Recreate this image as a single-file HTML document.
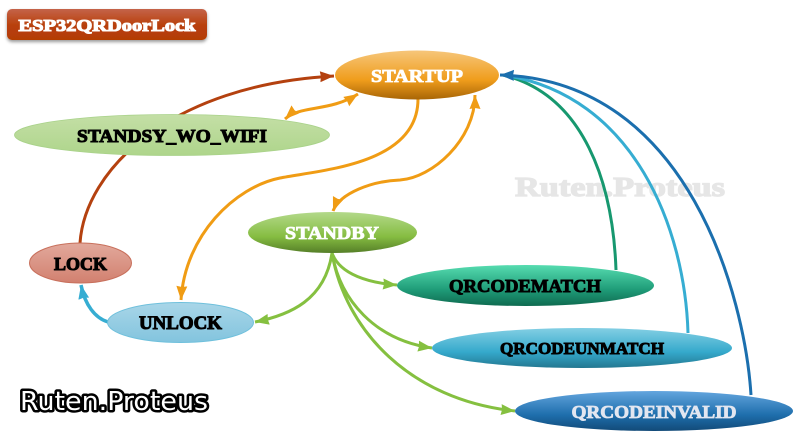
<!DOCTYPE html>
<html><head><meta charset="utf-8">
<style>
html,body{margin:0;padding:0;background:#fff}
svg{display:block}
text{font-family:"Liberation Serif",serif;font-weight:bold;text-anchor:middle;dominant-baseline:auto}
</style></head><body>
<svg width="800" height="437" viewBox="0 0 800 437" xmlns="http://www.w3.org/2000/svg">
<defs>
<linearGradient id="gT" x1="0" y1="0" x2="0" y2="1"><stop offset="0" stop-color="#c4634a"/><stop offset=".55" stop-color="#b83f08"/><stop offset="1" stop-color="#b33c06"/></linearGradient>
<linearGradient id="gS" x1="0" y1="0" x2="0" y2="1"><stop offset="0" stop-color="#f6c67a"/><stop offset=".6" stop-color="#f09d1c"/><stop offset="1" stop-color="#a86506"/></linearGradient>
<linearGradient id="gW" x1="0" y1="0" x2="0" y2="1"><stop offset="0" stop-color="#c4dfa6"/><stop offset="1" stop-color="#aed58b"/></linearGradient>
<linearGradient id="gB" x1="0" y1="0" x2="0" y2="1"><stop offset="0" stop-color="#b3d98a"/><stop offset=".6" stop-color="#86bd42"/><stop offset="1" stop-color="#557f28"/></linearGradient>
<linearGradient id="gL" x1="0" y1="0" x2="0" y2="1"><stop offset="0" stop-color="#e2a99c"/><stop offset="1" stop-color="#d2806f"/></linearGradient>
<linearGradient id="gU" x1="0" y1="0" x2="0" y2="1"><stop offset="0" stop-color="#a9d6e8"/><stop offset="1" stop-color="#82c4de"/></linearGradient>
<linearGradient id="gM" x1="0" y1="0" x2="0" y2="1"><stop offset="0" stop-color="#56dcb0"/><stop offset=".6" stop-color="#1f9c78"/><stop offset="1" stop-color="#0f6a50"/></linearGradient>
<linearGradient id="gN" x1="0" y1="0" x2="0" y2="1"><stop offset="0" stop-color="#83cfe4"/><stop offset=".6" stop-color="#35a9cc"/><stop offset="1" stop-color="#237790"/></linearGradient>
<linearGradient id="gI" x1="0" y1="0" x2="0" y2="1"><stop offset="0" stop-color="#63a5de"/><stop offset=".6" stop-color="#1e6eac"/><stop offset="1" stop-color="#124a78"/></linearGradient>
<filter id="sh" x="-10%" y="-20%" width="120%" height="150%"><feDropShadow dx="0" dy="2" stdDeviation="1.5" flood-color="#000" flood-opacity=".4"/></filter>
<marker id="aBr" markerUnits="userSpaceOnUse" markerWidth="15" markerHeight="12" refX="14" refY="5.5" orient="auto"><path d="M0 0L14 5.5L0 11L1 5.5Z" fill="#b4410f"/></marker>
<marker id="aOr" markerUnits="userSpaceOnUse" markerWidth="15" markerHeight="12" refX="14" refY="5.5" orient="auto-start-reverse"><path d="M0 0L14 5.5L0 11L1 5.5Z" fill="#f09c14"/></marker>
<marker id="aGr" markerUnits="userSpaceOnUse" markerWidth="15" markerHeight="12" refX="14" refY="5.5" orient="auto"><path d="M0 0L14 5.5L0 11L1 5.5Z" fill="#85c040"/></marker>
<marker id="aCy" markerUnits="userSpaceOnUse" markerWidth="15" markerHeight="12" refX="14" refY="5.5" orient="auto"><path d="M0 0L14 5.5L0 11L1 5.5Z" fill="#36add2"/></marker>
<marker id="aBl" markerUnits="userSpaceOnUse" markerWidth="15" markerHeight="12" refX="14" refY="5.5" orient="auto"><path d="M0 0L14 5.5L0 11L1 5.5Z" fill="#1b6fae"/></marker>
</defs>

<text x="620" y="196" font-size="27" fill="#e6e6e6" stroke="#e6e6e6" stroke-width="1.2" textLength="210" lengthAdjust="spacingAndGlyphs">Ruten.Proteus</text>

<g fill="none" stroke-width="3">
<path d="M80 243C85 170 170 85 334 76" stroke="#b4410f" marker-end="url(#aBr)"/>
<path d="M285 119C300 105 330 112 358 94" stroke="#f09c14" marker-start="url(#aOr)" marker-end="url(#aOr)"/>
<path d="M418 99C418 165 320 170 280 178C235 187 185 235 181 300" stroke="#f09c14" marker-end="url(#aOr)"/>
<path d="M333 211C340 193 372 181 400 180C432 178 475 140 475 95" stroke="#f09c14" marker-start="url(#aOr)" marker-end="url(#aOr)"/>
<path d="M616 270C613 185 585 95 503 75" stroke="#17986f"/>
<path d="M688 333C685 230 635 95 503 75" stroke="#36add2"/>
<path d="M751 395C745 300 690 80 500 75" stroke="#1b6fae" marker-end="url(#aBl)"/>
<path d="M108 322C95 318 85 305 81 285" stroke="#36add2" stroke-width="3.5" marker-end="url(#aCy)"/>
<path d="M332 253C325 300 290 315 255 322" stroke="#85c040" marker-end="url(#aGr)"/>
<path d="M332 253C340 275 370 283 397 285" stroke="#85c040" marker-end="url(#aGr)"/>
<path d="M332 253C340 300 375 340 432 348" stroke="#85c040" marker-end="url(#aGr)"/>
<path d="M332 253C345 330 410 400 515 411" stroke="#85c040" marker-end="url(#aGr)"/>
</g>

<rect x="7" y="9" width="200" height="31" rx="5" fill="url(#gT)" filter="url(#sh)"/>
<text x="107" y="31" font-size="17" fill="#fff" stroke="#fff" stroke-width="1.1" textLength="177" lengthAdjust="spacingAndGlyphs">ESP32QRDoorLock</text>

<ellipse cx="417" cy="75" rx="82" ry="24.5" fill="url(#gS)"/>
<text x="417" y="82" font-size="17.5" fill="#fff" stroke="#fff" stroke-width=".8" textLength="92" lengthAdjust="spacingAndGlyphs">STARTUP</text>

<ellipse cx="172" cy="135" rx="157.5" ry="20.5" fill="url(#gW)" stroke="#a9d28a" stroke-width=".8"/>
<text x="172" y="142" font-size="18" fill="#000" stroke="#000" stroke-width="1" textLength="190" lengthAdjust="spacingAndGlyphs">STANDSY_WO_WIFI</text>

<ellipse cx="332.5" cy="232.5" rx="84.5" ry="20.5" fill="url(#gB)"/>
<text x="332" y="239" font-size="17.5" fill="#fff" stroke="#fff" stroke-width=".8" textLength="94" lengthAdjust="spacingAndGlyphs">STANDBY</text>

<ellipse cx="80.5" cy="263" rx="51" ry="20" fill="url(#gL)" stroke="#c8705c" stroke-width="1"/>
<text x="80.5" y="270" font-size="18" fill="#000" stroke="#000" stroke-width="1" textLength="53" lengthAdjust="spacingAndGlyphs">LOCK</text>

<ellipse cx="180.5" cy="322.5" rx="73" ry="20" fill="url(#gU)" stroke="#6fc0dc" stroke-width="1"/>
<text x="180.5" y="329" font-size="18.5" fill="#000" stroke="#000" stroke-width="1" textLength="83" lengthAdjust="spacingAndGlyphs">UNLOCK</text>

<ellipse cx="525.5" cy="285.5" rx="128.5" ry="20.5" fill="url(#gM)"/>
<text x="525" y="292" font-size="18" fill="#000" stroke="#000" stroke-width=".9" textLength="152" lengthAdjust="spacingAndGlyphs">QRCODEMATCH</text>

<ellipse cx="582" cy="348" rx="150" ry="20" fill="url(#gN)"/>
<text x="582" y="354" font-size="16.5" fill="#000" stroke="#000" stroke-width=".9" textLength="164" lengthAdjust="spacingAndGlyphs">QRCODEUNMATCH</text>

<ellipse cx="654" cy="411" rx="139" ry="20" fill="url(#gI)"/>
<text x="654" y="418" font-size="18" fill="#e2e6f0" stroke="#e2e6f0" stroke-width=".8" textLength="165" lengthAdjust="spacingAndGlyphs">QRCODEINVALID</text>

<text x="114" y="410" style="font-family:'DejaVu Sans',sans-serif;font-weight:normal;paint-order:stroke" font-size="26" fill="#fff" stroke="#000" stroke-width="5" stroke-linejoin="round" textLength="188" lengthAdjust="spacingAndGlyphs">Ruten.Proteus</text>
</svg>
</body></html>
